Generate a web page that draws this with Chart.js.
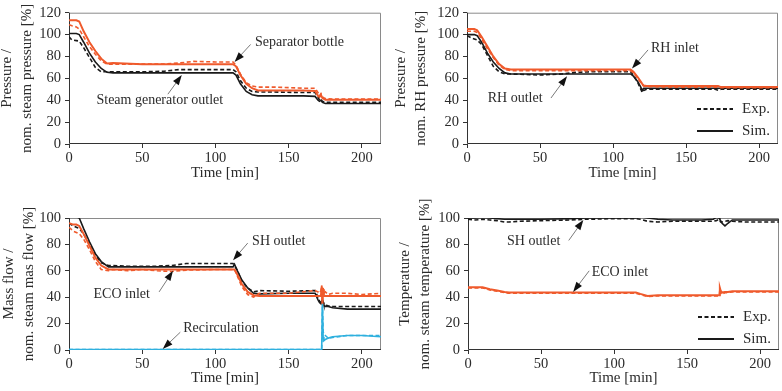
<!DOCTYPE html>
<html>
<head>
<meta charset="utf-8">
<script src="https://cdn.jsdelivr.net/npm/chart.js@4.4.1/dist/chart.umd.min.js"></script>
<style>
  body { margin: 0; background: #fff; }
  #wrap { position: relative; width: 782px; height: 391px; overflow: hidden; }
  #wrap canvas { position: absolute; }
</style>
</head>
<body>
<div id="wrap">
  <canvas id="cPress" width="391" height="195" style="left:0;top:0"></canvas>
  <canvas id="cRh" width="391" height="195" style="left:391px;top:0"></canvas>
  <canvas id="cFlow" width="391" height="196" style="left:0;top:195px"></canvas>
  <canvas id="cTemp" width="391" height="196" style="left:391px;top:195px"></canvas>
</div>
<script>
// ---- data (time in min, values in % of nominal) ----
const xTicks = [0, 50, 100, 150, 200];

// steam generator pressure
const tPress = [0, 2, 5, 7, 10, 14, 18, 22, 26, 30, 50, 65, 75, 85, 100, 112, 114, 117, 121, 125, 129, 140, 160, 168, 170, 171, 172, 173, 175, 180, 200, 213];
const sepSim = [113, 113, 113, 112, 103, 93, 85, 78, 73.5, 74, 73, 73, 73, 73, 73, 73, 71, 63, 55, 51, 49, 49, 49, 48.5, 44, 43, 45, 42, 40.5, 40.5, 40.5, 40.5];
const sepExp = [109, 108, 107, 105, 98, 89, 82, 76, 73, 73, 73, 73, 74, 75.5, 75, 75, 72, 64, 56, 53, 52, 52, 51, 51, 47, 44, 46, 43, 41.5, 41, 41, 41];
const sgoSim = [101, 101, 101, 100, 93, 83, 75, 69, 65.5, 65, 65, 65, 65, 65, 65, 65, 63, 55, 48, 45, 44, 44, 44, 43.5, 40, 39, 40, 38, 37, 37, 37, 37];
const sgoExp = [98, 95, 94.5, 94, 88, 79, 70, 66, 66, 66, 66, 66.5, 68, 68, 68, 68, 66, 58, 51, 48, 47.5, 47.5, 47, 47, 43, 40, 41, 39, 38, 38, 38, 38];

// reheater pressure
const tRh = [0, 3, 5, 7, 10, 14, 18, 22, 26, 30, 50, 65, 75, 85, 100, 112, 114, 117, 119, 120, 121, 123, 140, 170, 172, 174, 200, 213];
const rhInSim = [105, 105, 105, 104, 98, 89, 80, 73, 69, 68, 68, 68, 68, 68, 68, 68, 66, 61, 57, 55, 53.5, 53, 53, 53, 53, 52, 52, 52];
const rhInExp = [103, 103, 103, 102, 96, 87, 79, 72, 68, 67, 67, 67, 67, 67, 67, 67, 65, 60, 56, 54, 53, 52.5, 52, 52, 52, 51.5, 51.5, 51.5];
const rhOutSim = [100, 100, 100, 99, 93, 83, 75, 69, 65, 64, 64, 64, 64, 64, 64, 64, 62, 57, 52, 49, 51, 51, 51, 51, 51, 51, 51, 51];
const rhOutExp = [99, 97, 96, 95, 91, 81, 71, 66, 64, 64, 63, 64, 65.5, 66, 66, 66, 63, 56, 50, 47, 49, 50, 50, 50, 49, 50, 50, 50];

// mass flow
const tFlow = [0, 3, 5, 7, 10, 14, 18, 22, 27, 30, 40, 50, 60, 70, 80, 100, 112, 113, 115, 118, 122, 126, 130, 150, 168, 170, 171, 172, 172.5, 173, 173.5, 174, 175, 177, 180, 190, 200, 213];
const shSim = [101, 101, 101, 100, 92, 82, 73, 67, 63, 63, 63, 63, 63, 63, 63, 63, 63, 65, 60, 53, 47, 43, 42.5, 43, 43, 38, 36, 35, 37, 38, 36, 34, 33, 33, 32, 31, 31, 31];
const shExp = [96, 94, 93, 92, 88, 80, 72, 66, 64, 64, 63.5, 63.5, 63.5, 64, 65.5, 65.5, 65.5, 64, 60, 52, 47, 44, 45, 44.5, 45, 40, 37, 36, 37, 38, 36, 35, 34, 33.5, 33, 33, 33, 33];
const ecoSim = [96, 95, 95, 94, 88, 79, 70, 64, 61, 61, 61, 61, 61, 61, 61, 61, 61, 61, 57, 50, 44, 41.5, 41, 41, 41, 41, 41, 41, 48, 34, 46, 41, 41, 41, 41, 41, 41, 41];
const ecoExp = [93, 90, 89, 88, 84, 76, 67, 61, 60, 61, 60, 61, 60, 59.5, 60.5, 61, 61, 61, 56, 48, 42, 40, 43, 43, 45, 44, 43, 45, 49, 38, 47, 43, 44, 42, 43, 43, 42, 43];
const recSim = [0.3, 0.3, 0.3, 0.3, 0.3, 0.3, 0.3, 0.3, 0.3, 0.3, 0.3, 0.3, 0.3, 0.3, 0.3, 0.3, 0.3, 0.3, 0.3, 0.3, 0.3, 0.3, 0.3, 0.3, 0.3, 0.3, 0.3, 0.3, 0.3, 35, 10, 7, 8, 9, 10, 11, 11, 10];
const recExp = [0.3, 0.3, 0.3, 0.3, 0.3, 0.3, 0.3, 0.3, 0.3, 0.3, 0.3, 0.3, 0.3, 0.3, 0.3, 0.3, 0.3, 0.3, 0.3, 0.3, 0.3, 0.3, 0.3, 0.3, 0.3, 0.3, 0.3, 0.3, 0.3, 33, 14, 12, 11, 9, 9.5, 11, 11, 11];

// temperature
const tTemp = [0, 5, 10, 15, 20, 25, 28, 35, 50, 70, 80, 100, 115, 118, 123, 130, 140, 160, 168, 170, 172, 172.5, 173, 174, 176, 178, 181, 190, 200, 213];
const shTSim = [100, 100, 100.5, 100, 99.5, 99, 99, 99, 99, 99.5, 100, 100, 100, 101, 100, 99, 98.5, 98.5, 99, 100.5, 100, 99, 98, 96, 94, 96, 98.5, 98.5, 98.5, 98.5];
const shTExp = [99, 98.5, 99, 98.5, 98, 97, 97, 97.5, 98, 98.5, 99, 99.5, 99.5, 99, 97.5, 97, 97.5, 97.5, 97.5, 98, 99, 98, 97, 97, 97.5, 98, 97.5, 97, 97, 97];
const ecoTSim = [47.5, 47.5, 47.5, 46, 45, 44, 43.5, 43.5, 43.5, 43.5, 43.5, 43.5, 43.5, 42.5, 41, 41.5, 41.5, 41.5, 41.5, 41.5, 41.5, 47, 45, 43.5, 44, 44, 44.5, 44.5, 44.5, 44.5];
const ecoTExp = [47, 47, 47, 45.5, 44.5, 43.5, 43, 43, 43, 43, 43, 43, 43, 42, 40.5, 41, 41, 41, 41, 41, 41, 46, 43, 42, 43.5, 43.5, 44, 44, 44, 44];

// ---- style ----
const ORANGE = '#ef5a2c';
const BLACK = '#1a1a1a';
const CYAN = '#2fb0de';
const TXT = '#2b2b2b';
const SERIF = "'Liberation Serif', 'Times New Roman', serif";

function pts(t, v) { return t.map((x, i) => ({ x: x, y: v[i] })); }

function line(t, v, color, dashed, width) {
  return {
    data: pts(t, v),
    borderColor: color,
    borderWidth: width || 1.6,
    borderDash: dashed ? [4, 2.5] : [],
    pointRadius: 0,
    tension: 0,
    fill: false
  };
}

// frame, annotation arrows and the Exp./Sim. key
const decorations = {
  id: 'decorations',
  beforeDatasetsDraw(chart) {
    const { ctx, chartArea: a } = chart;
    ctx.save();
    ctx.lineWidth = 1;
    ctx.strokeStyle = '#8a8a8a';
    ctx.beginPath();
    ctx.moveTo(a.left, a.top + 0.5);
    ctx.lineTo(a.right - 0.5, a.top + 0.5);
    ctx.lineTo(a.right - 0.5, a.bottom);
    ctx.stroke();
    ctx.strokeStyle = '#333';
    ctx.beginPath();
    ctx.moveTo(a.left + 0.5, a.top);
    ctx.lineTo(a.left + 0.5, a.bottom - 0.5);
    ctx.lineTo(a.right, a.bottom - 0.5);
    ctx.stroke();
    ctx.restore();
  },
  afterDatasetsDraw(chart, args, opts) {
    const { ctx, chartArea: a, scales: { x, y } } = chart;
    ctx.save();
    ctx.font = '14px ' + SERIF;
    ctx.fillStyle = TXT;
    ctx.textBaseline = 'middle';
    (opts.notes || []).forEach(n => {
      ctx.textAlign = n.align;
      ctx.fillText(n.text, x.getPixelForValue(n.at[0]), y.getPixelForValue(n.at[1]));
      const x0 = x.getPixelForValue(n.from[0]), y0 = y.getPixelForValue(n.from[1]);
      const x1 = x.getPixelForValue(n.to[0]), y1 = y.getPixelForValue(n.to[1]);
      const ang = Math.atan2(y1 - y0, x1 - x0);
      ctx.strokeStyle = '#7a7a7a';
      ctx.lineWidth = 1;
      ctx.beginPath();
      ctx.moveTo(x0, y0);
      ctx.lineTo(x1 - 6 * Math.cos(ang), y1 - 6 * Math.sin(ang));
      ctx.stroke();
      ctx.fillStyle = '#111';
      ctx.beginPath();
      ctx.moveTo(x1, y1);
      ctx.lineTo(x1 - 10 * Math.cos(ang) + 3.5 * Math.sin(ang), y1 - 10 * Math.sin(ang) - 3.5 * Math.cos(ang));
      ctx.lineTo(x1 - 10 * Math.cos(ang) - 3.5 * Math.sin(ang), y1 - 10 * Math.sin(ang) + 3.5 * Math.cos(ang));
      ctx.closePath();
      ctx.fill();
      ctx.fillStyle = TXT;
    });
    if (opts.key) {
      ctx.font = '15px ' + SERIF;
      const rows = [['Exp.', [4, 2.5], opts.key[0]], ['Sim.', [], opts.key[1]]];
      rows.forEach(r => {
        const yy = a.bottom - r[2];
        ctx.strokeStyle = BLACK;
        ctx.lineWidth = 1.8;
        ctx.setLineDash(r[1]);
        ctx.beginPath();
        ctx.moveTo(a.right - 81, yy);
        ctx.lineTo(a.right - 45, yy);
        ctx.stroke();
        ctx.setLineDash([]);
        ctx.textAlign = 'left';
        ctx.fillStyle = TXT;
        ctx.fillText(r[0], a.right - 36, yy);
      });
    }
    ctx.restore();
  }
};

function makeChart(id, datasets, o) {
  return new Chart(id, {
    type: 'line',
    data: { datasets: datasets },
    options: {
      responsive: false,
      animation: false,
      layout: { padding: { top: o.top, right: o.right, left: 0, bottom: 0 } },
      plugins: {
        legend: { display: false },
        tooltip: { enabled: false },
        decorations: { notes: o.notes, key: o.key }
      },
      scales: {
        x: {
          type: 'linear',
          min: 0,
          max: 213,
          afterBuildTicks: s => { s.ticks = xTicks.map(v => ({ value: v })); },
          afterFit: s => { s.height = o.xh; },
          grid: { drawOnChartArea: false, drawTicks: true, tickLength: 4, color: '#333' },
          border: { display: false },
          ticks: { color: TXT, font: { family: SERIF, size: 14.5 }, padding: 1, maxRotation: 0 },
          title: {
            display: true, text: 'Time [min]', color: TXT,
            font: { family: SERIF, size: 15, lineHeight: 1.3 },
            padding: { top: 0, bottom: o.xtPad }
          }
        },
        y: {
          min: 0,
          max: o.ymax,
          ticks: { stepSize: 20, color: TXT, font: { family: SERIF, size: 14.5 }, padding: 4 },
          afterFit: s => { s.width = o.yw; },
          grid: { drawOnChartArea: false, drawTicks: true, tickLength: 4, color: '#333' },
          border: { display: false },
          title: {
            display: true, text: o.ytitle, color: TXT,
            font: { family: SERIF, size: 15, lineHeight: 1.33 },
            padding: { top: o.ytPad, bottom: 0 }
          }
        }
      }
    },
    plugins: [decorations]
  });
}

makeChart('cPress', [
  line(tPress, sepSim, ORANGE, false, 2),
  line(tPress, sepExp, ORANGE, true, 1.6),
  line(tPress, sgoSim, BLACK, false, 1.6),
  line(tPress, sgoExp, BLACK, true, 1.6)
], {
  top: 10, right: 10, yw: 69, xh: 51, xtPad: 12, ytPad: -3, ymax: 120,
  ytitle: ['Pressure /', 'nom. steam pressure [%]'],
  notes: [
    { text: 'Separator bottle', align: 'left', at: [127, 93], from: [124, 91], to: [113, 75] },
    { text: 'Steam generator outlet', align: 'center', at: [62, 39.5], from: [67.5, 45.5], to: [77, 63] }
  ]
});

makeChart('cRh', [
  line(tRh, rhInSim, ORANGE, false, 2),
  line(tRh, rhInExp, ORANGE, true, 1.6),
  line(tRh, rhOutSim, BLACK, false, 1.6),
  line(tRh, rhOutExp, BLACK, true, 1.6)
], {
  top: 10, right: 4, yw: 76, xh: 51, xtPad: 12, ytPad: 0.5, ymax: 120,
  ytitle: ['Pressure /', 'nom. RH pressure [%]'],
  key: [35, 13],
  notes: [
    { text: 'RH inlet', align: 'left', at: [126, 87], from: [124, 86], to: [113, 69] },
    { text: 'RH outlet', align: 'center', at: [33, 42], from: [57.5, 42], to: [68.5, 62] }
  ]
});

makeChart('cFlow', [
  line(tFlow, recSim, CYAN, false, 1.6),
  line(tFlow, recExp, CYAN, true, 1.6),
  line(tFlow, ecoSim, ORANGE, false, 2),
  line(tFlow, ecoExp, ORANGE, true, 1.6),
  line(tFlow, shSim, BLACK, false, 1.6),
  line(tFlow, shExp, BLACK, true, 1.6)
], {
  top: 23, right: 10, yw: 69, xh: 41, xtPad: 3, ytPad: -1, ymax: 100,
  ytitle: ['Mass flow /', 'nom. steam mas flow [%]'],
  notes: [
    { text: 'SH outlet', align: 'left', at: [125, 82.5], from: [122, 81], to: [112, 68] },
    { text: 'ECO inlet', align: 'center', at: [36, 42.5], from: [61.5, 44], to: [71, 60] },
    { text: 'Recirculation', align: 'left', at: [78, 16.5], from: [76, 13.5], to: [64, 0.8] }
  ]
});

makeChart('cTemp', [
  line(tTemp, ecoTSim, ORANGE, false, 2),
  line(tTemp, ecoTExp, ORANGE, true, 1.6),
  line(tTemp, shTSim, BLACK, false, 1.6),
  line(tTemp, shTExp, BLACK, true, 1.6)
], {
  top: 23, right: 3, yw: 77, xh: 41, xtPad: 3, ytPad: 4, ymax: 100,
  ytitle: ['Temperature /', 'nom. steam temperature [%]'],
  key: [33, 11],
  notes: [
    { text: 'SH outlet', align: 'center', at: [45, 82], from: [69, 83], to: [79, 98.5] },
    { text: 'ECO inlet', align: 'center', at: [104, 59], from: [83, 60], to: [72, 44] }
  ]
});
</script>
</body>
</html>
